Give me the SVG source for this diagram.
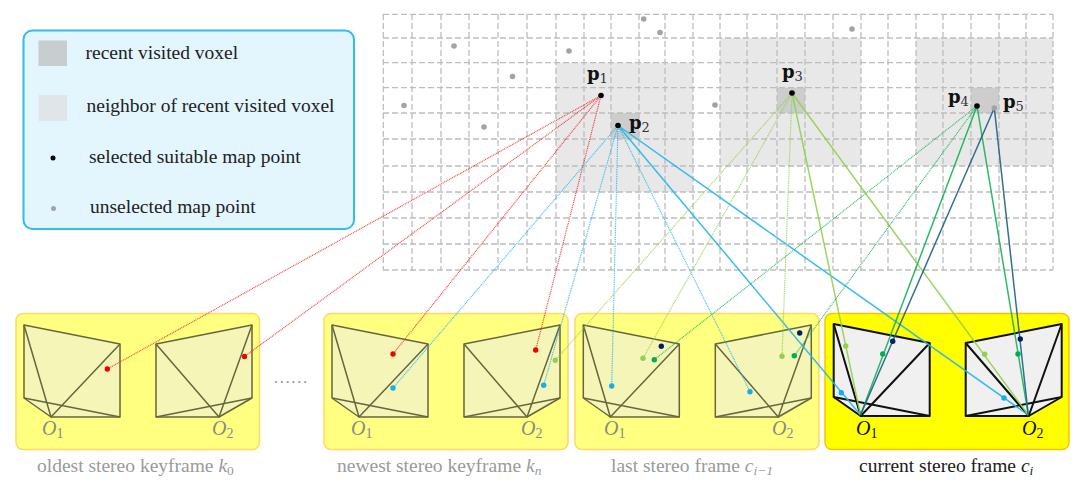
<svg xmlns="http://www.w3.org/2000/svg" width="1080" height="498" viewBox="0 0 1080 498">
<style>
text{font-family:"Liberation Serif","Times New Roman",serif}
.leg{font-size:19.5px;fill:#222}
.cap{font-size:19.500px;fill:#9a9a9a}
.cur{fill:#1a1a1a}
.var{font-style:italic}
.sub{font-size:13.500px}
.o{font-size:20px;font-style:italic;fill:#8a8a8a}
.o .sub{font-style:normal;font-size:14px}
.ocur{fill:#111}
.pl{font-family:"DejaVu Serif",serif;font-weight:bold;font-size:18px;fill:#111}
.pl .sub{font-weight:normal;font-size:13px;fill:#333}
.panel{fill:#ffff80;stroke:#ffd966;stroke-width:1.5}
.panelcur{fill:#ffff00;stroke:#ffc000;stroke-width:1.5}
.cam{fill:#f5f5b8;stroke:#66663f;stroke-width:1.5;stroke-linejoin:round}
.camcur{fill:#f0f0f0;stroke:#111;stroke-width:2;stroke-linejoin:round}
.nb{fill:#e8e8e8}
.rc{fill:#cdcdcd}
.grid{stroke:#bdbdbd;stroke-width:1.3;stroke-dasharray:6 3;fill:none}
.gp{fill:#a3a3a3}
.bk{fill:#000}
.dot{stroke-dasharray:1 .8;stroke-width:1.2;fill:none;opacity:.85}
.sol{stroke-width:1.5;fill:none;opacity:.9}
.red{stroke:#f0282d}.blue{stroke:#1fb6f0}.lg{stroke:#92d050}.gr{stroke:#14b35a}.nv{stroke:#1f5f85}
.fr{fill:#f00000}.fb{fill:#10b0f0}.fl{fill:#92d050}.fg{fill:#00b050}.fn{fill:#002060}
</style>
<defs>
<g id="camL"><path d="M24 325L120 344V417H51L24 398Z"/><path d="M24 325L51 417L120 344M24 398L120 417" fill="none"/></g>
<g id="camR"><path d="M156 344L252 325V398L219 417H156Z"/><path d="M156 344L219 417L252 325M156 417L252 398" fill="none"/></g>
</defs>

<g id="legend">
<rect x="23.500" y="30.500" width="330.500" height="198.500" rx="9" fill="#e3f5fd" stroke="#33bbf0" stroke-width="2"/>
<rect x="38.500" y="40.500" width="28.500" height="25.500" fill="#c8cdd0"/>
<rect x="38.500" y="95" width="28.500" height="26" fill="#dfe5e8"/>
<circle cx="53" cy="158" r="2.500" class="bk"/>
<circle cx="53.500" cy="208.500" r="2.500" class="gp"/>
<text class="leg" x="85.500" y="59">recent visited voxel</text>
<text class="leg" x="86.500" y="112">neighbor of recent visited voxel</text>
<text class="leg" x="89" y="163">selected suitable map point</text>
<text class="leg" x="90" y="213">unselected map point</text>
</g>

<g id="voxel-grid">
<rect class="nb" x="556" y="62.700" width="137" height="129.300"/>
<rect class="nb" x="720" y="38" width="141" height="128"/>
<rect class="nb" x="916" y="38" width="137" height="128"/>
<rect class="rc" x="611" y="113" width="28" height="26"/>
<rect class="rc" x="777" y="87.700" width="28" height="25.300"/>
<rect class="rc" x="971" y="87.700" width="28" height="25.300"/>
<path class="grid" d="M383.300 14V270M412 14V270M441 14V270M469 14V270M498 14V270M527 14V270M556 14V270M584 14V270M611 14V270M639 14V270M665 14V270M693 14V270M720 14V270M747 14V270M777 14V270M805 14V270M833 14V270M861 14V270M888 14V270M916 14V270M943 14V270M971 14V270M999 14V270M1026 14V270M1053 14V270"/>
<path class="grid" d="M383 14.300H1053M383 38H1053M383 62.700H1053M383 87.700H1053M383 113H1053M383 139H1053M383 166H1053M383 192H1053M383 218H1053M383 244H1053M383 270H1053"/>
<g id="unselected-points">
<circle class="gp" cx="643.700" cy="19" r="2.800"/><circle class="gp" cx="660" cy="32.500" r="2.800"/><circle class="gp" cx="454" cy="46" r="2.800"/><circle class="gp" cx="569" cy="51" r="2.800"/><circle class="gp" cx="512.500" cy="76.500" r="2.800"/><circle class="gp" cx="404" cy="105.500" r="2.800"/><circle class="gp" cx="484" cy="127" r="2.800"/><circle class="gp" cx="715" cy="105" r="2.800"/><circle class="gp" cx="852" cy="29" r="2.800"/>
</g>
</g>

<g id="frame-oldest">
<rect class="panel" x="16" y="313.500" width="243.500" height="136" rx="7"/>
<use href="#camL" class="cam"/><use href="#camR" class="cam"/>
<text class="o" x="42" y="435">O<tspan class="sub" dy="3">1</tspan></text>
<text class="o" x="212" y="435">O<tspan class="sub" dy="3">2</tspan></text>
<text class="cap" x="37" y="472">oldest stereo keyframe <tspan class="var">k</tspan><tspan class="sub" dy="3">0</tspan></text>
</g>
<g id="frame-newest">
<rect class="panel" x="324" y="313.500" width="244" height="136" rx="7"/>
<g transform="translate(308 0)"><use href="#camL" class="cam"/><use href="#camR" class="cam"/></g>
<text class="o" x="351" y="435">O<tspan class="sub" dy="3">1</tspan></text>
<text class="o" x="521" y="435">O<tspan class="sub" dy="3">2</tspan></text>
<text class="cap" x="337" y="472">newest stereo keyframe <tspan class="var">k</tspan><tspan class="sub var" dy="3">n</tspan></text>
</g>
<g id="frame-last">
<rect class="panel" x="575" y="313.500" width="244" height="136" rx="7"/>
<g transform="translate(559.300 0)"><use href="#camL" class="cam"/><use href="#camR" class="cam"/></g>
<text class="o" x="604" y="435">O<tspan class="sub" dy="3">1</tspan></text>
<text class="o" x="772" y="435">O<tspan class="sub" dy="3">2</tspan></text>
<text class="cap" x="611" y="472">last stereo frame <tspan class="var">c</tspan><tspan class="sub var" dy="3">i−1</tspan></text>
</g>
<g id="frame-current">
<rect class="panelcur" x="825" y="313.500" width="244" height="136" rx="7"/>
<g transform="translate(809.700 -1)"><use href="#camL" class="camcur"/><use href="#camR" class="camcur"/></g>
<text class="o ocur" x="856" y="435">O<tspan class="sub" dy="3">1</tspan></text>
<text class="o ocur" x="1022" y="435">O<tspan class="sub" dy="3">2</tspan></text>
<text class="cap cur" x="859" y="472">current stereo frame <tspan class="var">c</tspan><tspan class="sub var" dy="3">i</tspan></text>
</g>
<text id="ellipsis" x="273" y="383" font-size="17.500" fill="#9a9a9a">……</text>

<g id="connectors">
<path class="dot red" d="M601 95.500L107.300 369M601 95.500L244.500 356.500M601 95.500L393 354M601 95.500L535.700 350"/>
<path class="dot blue" d="M618 125.500L393 388M618 125.500L543.700 385.300M618 125.500L611.700 386M618 125.500L750 391.700"/>
<path class="sol blue" d="M618 125.500L860.500 415M618 125.500L1028.300 415"/>
<path class="dot lg" d="M792 93L555.300 360.300M792 93L643 358.300M792 93L782 356.300"/>
<path class="sol lg" d="M792 93L860.500 415M792 93L1028.300 415"/>
<path class="dot gr" d="M977 106L654.300 359.700M977 106L794.300 355.700"/>
<path class="sol gr" d="M977 106L860.500 415M977 106L1028.300 415"/>
<path class="sol nv" d="M994.300 108L860.500 415M994.300 108L1028.300 415"/>
</g>

<g id="selected-points">
<circle class="bk" cx="601" cy="95.500" r="2.800"/><circle class="bk" cx="618" cy="125.500" r="2.800"/><circle class="bk" cx="792" cy="93" r="2.800"/><circle class="bk" cx="977" cy="106" r="2.800"/><circle class="gp" cx="994.300" cy="108" r="2.800"/>
<text class="pl" x="587" y="80">p<tspan class="sub" dy="3">1</tspan></text>
<text class="pl" x="629" y="129">p<tspan class="sub" dy="3">2</tspan></text>
<text class="pl" x="782" y="78">p<tspan class="sub" dy="3">3</tspan></text>
<text class="pl" x="948" y="103">p<tspan class="sub" dy="3">4</tspan></text>
<text class="pl" x="1003" y="107.500">p<tspan class="sub" dy="3">5</tspan></text>
</g>

<g id="projections">
<circle class="fr" cx="107.300" cy="369" r="2.700"/><circle class="fr" cx="244.500" cy="356.500" r="2.700"/><circle class="fr" cx="393" cy="354" r="2.700"/><circle class="fr" cx="535.700" cy="350" r="2.700"/>
<circle class="fb" cx="393" cy="388" r="2.700"/><circle class="fb" cx="543.700" cy="385.300" r="2.700"/><circle class="fb" cx="611.700" cy="386" r="2.700"/><circle class="fb" cx="750" cy="391.700" r="2.700"/><circle class="fb" cx="841.300" cy="392.700" r="2.700"/><circle class="fb" cx="1004" cy="398" r="2.700"/>
<circle class="fl" cx="555.300" cy="360.300" r="2.700"/><circle class="fl" cx="643" cy="358.300" r="2.700"/><circle class="fl" cx="782" cy="356.300" r="2.700"/><circle class="fl" cx="845.700" cy="346" r="2.700"/><circle class="fl" cx="984.700" cy="354.300" r="2.700"/>
<circle class="fg" cx="654.300" cy="359.700" r="2.700"/><circle class="fg" cx="794.300" cy="355.700" r="2.700"/><circle class="fg" cx="882.700" cy="354" r="2.700"/><circle class="fg" cx="1018" cy="354" r="2.700"/>
<circle class="fn" cx="661.300" cy="346.300" r="2.700"/><circle class="fn" cx="799.700" cy="333" r="2.700"/><circle class="fn" cx="892.700" cy="341.300" r="2.700"/><circle class="fn" cx="1020.300" cy="339" r="2.700"/>
</g>
</svg>
